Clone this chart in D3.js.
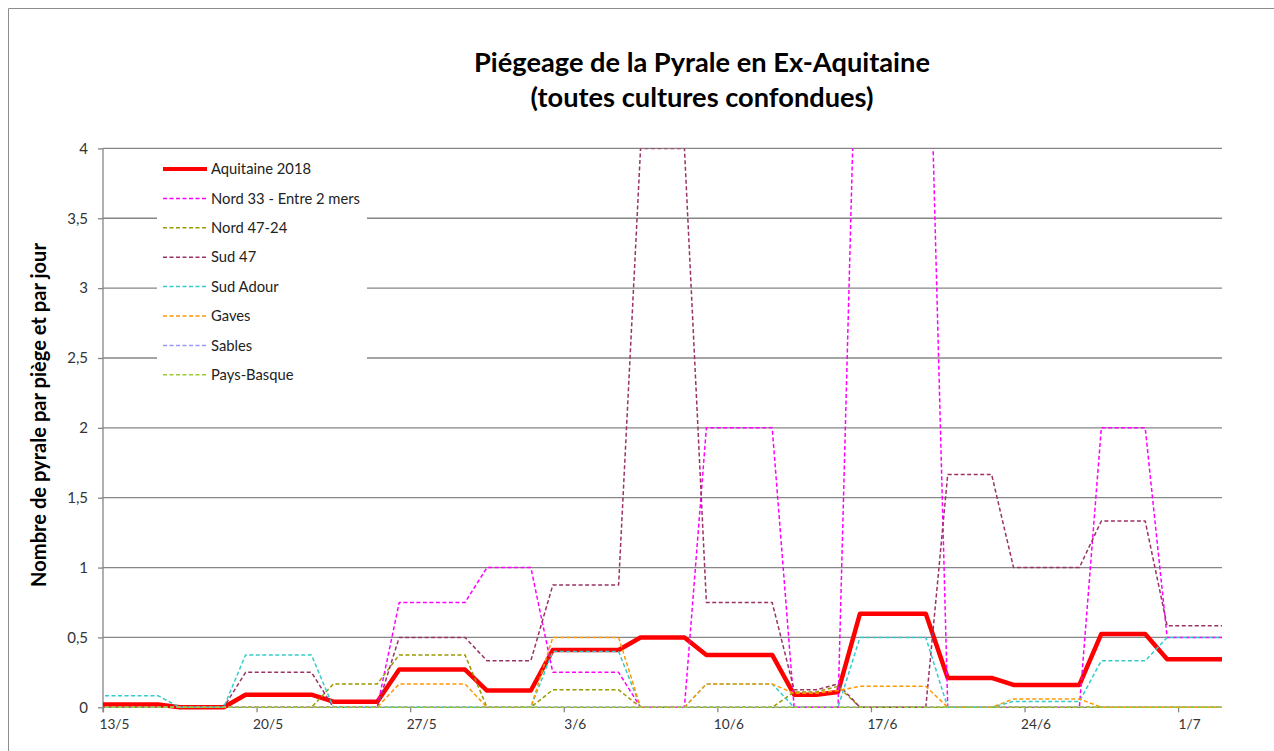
<!DOCTYPE html>
<html>
<head>
<meta charset="utf-8">
<script src="https://cdn.jsdelivr.net/npm/d3@7"></script>
<style>
  body { margin: 0; background: #fff; }
  svg { display: block; }
  text { font-family: Lato, "Open Sans", sans-serif; }
</style>
</head>
<body>
<div id="chart"></div>
<script>
// Jours relevés (du 12/5 au 3/7, une valeur par jour)
const firstDay = "2018-05-12";
const lastDay = "2018-07-03";
const tickLabels = ["13/5", "20/5", "27/5", "3/6", "10/6", "17/6", "24/6", "1/7"];
const yTicks = [0, 0.5, 1, 1.5, 2, 2.5, 3, 3.5, 4];

const seriesNames = ["Aquitaine 2018", "Nord 33 - Entre 2 mers", "Nord 47-24", "Sud 47",
                     "Sud Adour", "Gaves", "Sables", "Pays-Basque"];
const seriesColors = ["#ff0000", "#ff00ff", "#999900", "#993366",
                      "#33cccc", "#ff9900", "#9999ff", "#99cc33"];

const aquitaine = [0.02,0.02,0.02,0.02, 0,0,0, 0.09,0.09,0.09,0.09, 0.04,0.04,0.04,
  0.27,0.27,0.27,0.27, 0.12,0.12,0.12, 0.41,0.41,0.41,0.41, 0.5,0.5,0.5,
  0.375,0.375,0.375,0.375, 0.09,0.09,0.11, 0.67,0.67,0.67,0.67, 0.21,0.21,0.21,
  0.16,0.16,0.16,0.16, 0.525,0.525,0.525, 0.344,0.344,0.344,0.344];
const nord33 = [0,0,0,0, 0,0,0, 0,0,0,0, 0,0,0,
  0.75,0.75,0.75,0.75, 1,1,1, 0.25,0.25,0.25,0.25, 0,0,0,
  2,2,2,2, 0,0,0, 6,6,6,6, 0,0,0,
  0,0,0,0, 2,2,2, 0.5,0.5,0.5,0.5];
const nord4724 = [0,0,0,0, 0,0,0, 0,0,0,0, 0.167,0.167,0.167,
  0.375,0.375,0.375,0.375, 0,0,0, 0.125,0.125,0.125,0.125, 0,0,0,
  0,0,0,0, 0.11,0.11,0.15, 0,0,0,0, 0,0,0,
  0,0,0,0, 0,0,0, 0,0,0,0];
const sud47 = [0,0,0,0, 0,0,0, 0.25,0.25,0.25,0.25, 0,0,0,
  0.5,0.5,0.5,0.5, 0.333,0.333,0.333, 0.875,0.875,0.875,0.875, 4,4,4,
  0.75,0.75,0.75,0.75, 0.125,0.125,0.167, 0,0,0,0, 1.667,1.667,1.667,
  1,1,1,1, 1.333,1.333,1.333, 0.583,0.583,0.583,0.583];
const sudAdour = [0.083,0.083,0.083,0.083, 0,0,0, 0.375,0.375,0.375,0.375, 0,0,0,
  0,0,0,0, 0,0,0, 0.4,0.4,0.4,0.4, 0,0,0,
  0.167,0.167,0.167,0.167, 0,0,0, 0.5,0.5,0.5,0.5, 0,0,0,
  0.042,0.042,0.042,0.042, 0.333,0.333,0.333, 0.5,0.5,0.5,0.5];
const gaves = [0,0,0,0, 0,0,0, 0,0,0,0, 0,0,0,
  0.167,0.167,0.167,0.167, 0,0,0, 0.5,0.5,0.5,0.5, 0,0,0,
  0.167,0.167,0.167,0.167, 0.1,0.1,0.12, 0.15,0.15,0.15,0.15, 0,0,0,
  0.06,0.06,0.06,0.06, 0,0,0, 0,0,0,0];
const sables = [0,0,0,0, 0,0,0, 0,0,0,0, 0,0,0,
  0,0,0,0, 0,0,0, 0,0,0,0, 0,0,0,
  0,0,0,0, 0,0,0, 0,0,0,0, 0,0,0,
  0,0,0,0, 0,0,0, 0,0,0,0];
const paysBasque = [0,0,0,0, 0,0,0, 0,0,0,0, 0,0,0,
  0,0,0,0, 0,0,0, 0,0,0,0, 0,0,0,
  0,0,0,0, 0,0,0, 0,0,0,0, 0,0,0,
  0,0,0,0, 0,0,0, 0,0,0,0];

const seriesValues = [aquitaine, nord33, nord4724, sud47, sudAdour, gaves, sables, paysBasque];

// Dimensions
const W = 1274, H = 751;
const plot = { left: 103, right: 1222, top: 148.4, bottom: 707.3 };

const parseDay = d3.timeParse("%Y-%m-%d");
const days = d3.timeDay.range(parseDay(firstDay), d3.timeDay.offset(parseDay(lastDay), 1));
const parseTick = d3.timeParse("%d/%m/%Y");
const tickDates = tickLabels.map(t => parseTick(t + "/2018"));

const svg = d3.select("#chart").append("svg")
    .attr("width", W)
    .attr("height", H);

// Cadre du graphique (coupé à droite et en bas)
svg.append("line").attr("x1", 8.5).attr("x2", W).attr("y1", 8.5).attr("y2", 8.5)
    .attr("stroke", "#8c8c8c").attr("stroke-width", 1);
svg.append("line").attr("x1", 8.5).attr("x2", 8.5).attr("y1", 8.5).attr("y2", H)
    .attr("stroke", "#8c8c8c").attr("stroke-width", 1);

// Échelles : chaque jour occupe une bande, le point est au milieu
const x = d3.scaleTime()
    .domain([d3.timeDay.offset(parseDay(firstDay), 1), parseDay(lastDay)])
    .range([plot.left, plot.right]);
const xMid = d => x(d3.timeHour.offset(d, 12));
const y = d3.scaleLinear().domain([0, 4]).range([plot.bottom, plot.top]);

function fit(sel, target) {
    const w = sel.node().getComputedTextLength();
    const fs = parseFloat(sel.style("font-size"));
    sel.style("font-size", (fs * target / w) + "px");
}

// Grille horizontale
svg.append("g").selectAll("line")
    .data(yTicks.filter(v => v > 0))
  .enter().append("line")
    .attr("x1", plot.left).attr("x2", plot.right)
    .attr("y1", d => y(d)).attr("y2", d => y(d))
    .attr("stroke", "#868686").attr("stroke-width", 1.3);

// Axe Y
const yAxis = svg.append("g")
    .attr("transform", "translate(" + plot.left + ",0)")
    .call(d3.axisLeft(y).tickValues(yTicks).tickSize(5).tickPadding(10)
        .tickFormat(d => String(d).replace(".", ",")));
yAxis.select(".domain").attr("stroke", "#868686").attr("stroke-width", 1.3)
    .attr("d", "M0," + plot.top + "V" + (plot.bottom + 5));
yAxis.selectAll(".tick line").attr("stroke", "#868686").attr("stroke-width", 1.3);
yAxis.selectAll(".tick text").attr("fill", "#333").style("font-size", "15px")
    .attr("font-family", "Lato");

// Axe X
const xAxis = svg.append("g")
    .attr("transform", "translate(0," + plot.bottom + ")")
    .call(d3.axisBottom(x).tickValues(tickDates).tickSize(5).tickFormat((d, i) => tickLabels[i]));
xAxis.select(".domain").attr("stroke", "#868686").attr("stroke-width", 1.3)
    .attr("d", "M" + plot.left + ",0H" + plot.right);
xAxis.selectAll(".tick line").attr("stroke", "#868686").attr("stroke-width", 1.3);
xAxis.selectAll(".tick text")
    .attr("x", x(d3.timeHour.offset(tickDates[0], 12)) - x(tickDates[0]))
    .attr("y", 12)
    .attr("fill", "#333")
    .style("font-size", "15px");
fit(xAxis.select(".tick text"), 30);
xAxis.selectAll(".tick text").style("font-size", xAxis.select(".tick text").style("font-size"));

// Zone de tracé découpée
svg.append("clipPath").attr("id", "clip")
  .append("rect")
    .attr("x", plot.left).attr("y", plot.top)
    .attr("width", plot.right - plot.left).attr("height", plot.bottom - plot.top + 6);

const line = d3.line()
    .x((d, i) => xMid(days[i]))
    .y(d => y(d));

const series = svg.append("g").attr("clip-path", "url(#clip)");
seriesValues.forEach(function(vals, s) {
    series.append("path")
        .datum(vals)
        .attr("d", line)
        .attr("fill", "none")
        .attr("stroke", seriesColors[s])
        .attr("stroke-width", s === 0 ? 4.5 : 1.5)
        .attr("stroke-dasharray", s === 0 ? null : "4,2.5")
        .attr("stroke-linejoin", "round");
});

// Légende
const legend = svg.append("g");
legend.append("rect")
    .attr("x", 157).attr("y", 152).attr("width", 210).attr("height", 240)
    .attr("fill", "#fff");
const legendItems = legend.selectAll(".item")
    .data(seriesNames)
  .enter().append("g")
    .attr("class", "item")
    .attr("transform", (d, i) => "translate(0," + (169 + i * 29.4) + ")");
legendItems.append("line")
    .attr("x1", 163).attr("x2", 207)
    .attr("stroke", (d, i) => seriesColors[i])
    .attr("stroke-width", (d, i) => i === 0 ? 4 : 1.5)
    .attr("stroke-dasharray", (d, i) => i === 0 ? null : "4,2.5");
legendItems.append("text")
    .attr("x", 211)
    .attr("dy", "0.35em")
    .attr("fill", "#222")
    .style("font-size", "14px")
    .text(d => d);
fit(legend.select(".item:nth-of-type(2) text"), 149);
legendItems.selectAll("text").style("font-size", legend.select(".item:nth-of-type(2) text").style("font-size"));

// Titre
const t1 = svg.append("text")
    .attr("x", 702).attr("y", 72)
    .attr("text-anchor", "middle")
    .attr("font-weight", "bold")
    .attr("fill", "#000")
    .style("font-size", "24px")
    .text("Piégeage de la Pyrale en Ex-Aquitaine");
fit(t1, 456);
const t2 = svg.append("text")
    .attr("x", 702).attr("y", 107)
    .attr("text-anchor", "middle")
    .attr("font-weight", "bold")
    .attr("fill", "#000")
    .style("font-size", t1.style("font-size"))
    .text("(toutes cultures confondues)");

// Titre de l'axe Y
const yt = svg.append("text")
    .attr("transform", "translate(46,415) rotate(-90)")
    .attr("text-anchor", "middle")
    .attr("font-weight", "bold")
    .attr("fill", "#000")
    .style("font-size", "16px")
    .text("Nombre de pyrale par piège et par jour");
fit(yt, 344);
</script>
</body>
</html>
